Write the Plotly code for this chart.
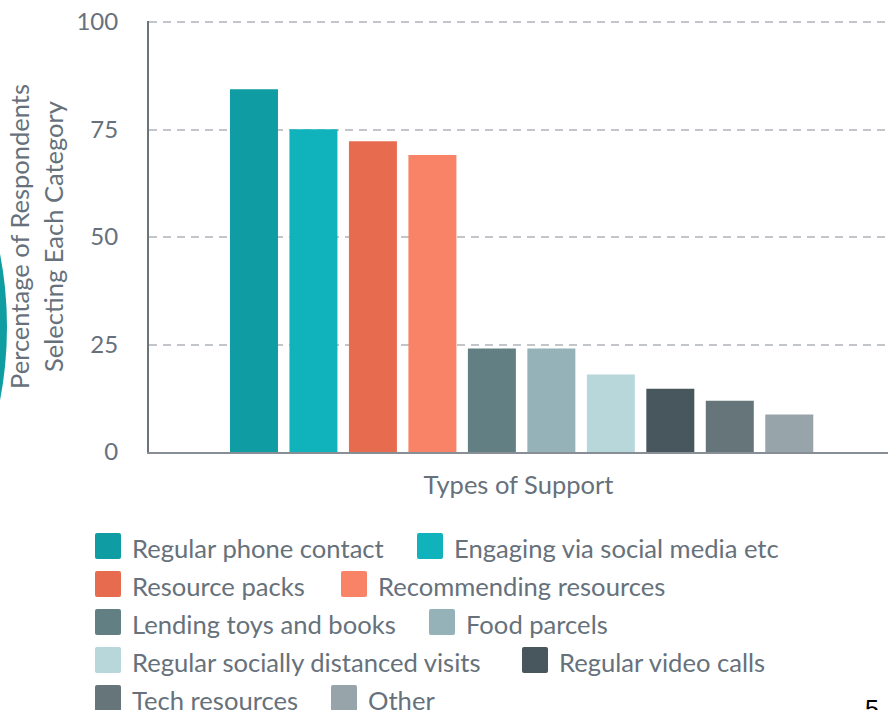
import plotly.graph_objects as go

# ---- data -------------------------------------------------------------
categories = [
    "Regular phone contact",
    "Engaging via social media etc",
    "Resource packs",
    "Recommending resources",
    "Lending toys and books",
    "Food parcels",
    "Regular socially distanced visits",
    "Regular video calls",
    "Tech resources",
    "Other",
]
percentages = [84.4, 75.1, 72.3, 69.1, 24.1, 24.1, 18.0, 14.7, 11.9, 8.7]
bar_colors = [
    "#0f9da3", "#10b3bc", "#e76c4f", "#f98367", "#628084",
    "#94b2b7", "#b8d7db", "#48575d", "#667579", "#97a4a9",
]
y_ticks = [0, 25, 50, 75, 100]
y_title = "Percentage of Respondents<br>Selecting Each Category"
x_title = "Types of Support"
page_number = "5"

# ---- page geometry (pixels) ------------------------------------------
W, H = 890, 710
M_L, M_R, M_T, M_B = 149, 2, 21, 258
PW = W - M_L - M_R
PH = H - M_T - M_B

FONT = "Lato"
TEXT = "#66717b"


def fx(px):
    """pixel column -> paper x"""
    return (px - M_L) / PW


def fy(py):
    """pixel row -> paper y"""
    return (H - M_B - py) / PH


def rounded_rect_path(x0, y0, x1, y1, r):
    """SVG path (paper coords) for a rectangle given in pixels, rounded corners."""
    pts = [
        ("M", x0 + r, y0), ("L", x1 - r, y0), ("Q", x1, y0, x1, y0 + r),
        ("L", x1, y1 - r), ("Q", x1, y1, x1 - r, y1),
        ("L", x0 + r, y1), ("Q", x0, y1, x0, y1 - r),
        ("L", x0, y0 + r), ("Q", x0, y0, x0 + r, y0),
    ]
    out = []
    for seg in pts:
        cmd, coords = seg[0], seg[1:]
        pairs = [f"{fx(coords[k]):.5f},{fy(coords[k + 1]):.5f}" for k in range(0, len(coords), 2)]
        out.append(cmd + " ".join(pairs))
    return " ".join(out) + " Z"


fig = go.Figure()
fig.add_trace(go.Bar(
    x=categories,
    y=percentages,
    marker=dict(color=bar_colors, line=dict(width=0)),
    width=0.807,
    showlegend=False,
    hovertemplate="%{x}: %{y:.1f}%<extra></extra>",
))

# ---- legend: two entries per row -------------------------------------
LEG_X0 = 95
LEG_ROW0 = 546
LEG_STEP = 38
SW = 26
TXT_DX = 35
LEG_COL2_X = [417, 341, 429, 522, 331]

shapes = []
annotations = []
for i, (name, col) in enumerate(zip(categories, bar_colors)):
    row, colno = divmod(i, 2)
    sx = LEG_X0 if colno == 0 else LEG_COL2_X[row]
    cy = LEG_ROW0 + row * LEG_STEP
    shapes.append(dict(
        type="path", xref="paper", yref="paper",
        path=rounded_rect_path(sx, cy - 13, sx + SW, cy + 13, 2),
        fillcolor=col, line=dict(width=0), layer="above",
    ))
    annotations.append(dict(
        xref="paper", yref="paper", x=fx(sx + TXT_DX), y=fy(cy + 1.5),
        xanchor="left", yanchor="middle", showarrow=False,
        text=name, font=dict(family=FONT, size=25.6, color=TEXT),
    ))

# decorative teal disc at the left edge of the page
shapes.append(dict(
    type="circle", xref="paper", yref="paper",
    x0=fx(-771), x1=fx(7), y0=fy(716), y1=fy(-62),
    fillcolor="#0f9da2", line=dict(width=0), layer="below",
))

# page number
annotations.append(dict(
    xref="paper", yref="paper", x=fx(872), y=fy(693),
    xanchor="center", yanchor="top", showarrow=False,
    text=page_number, font=dict(family="Liberation Sans", size=25, color="#000000"),
))

fig.update_layout(
    width=W, height=H,
    margin=dict(l=M_L, r=M_R, t=M_T, b=M_B, pad=0),
    paper_bgcolor="white", plot_bgcolor="white",
    font=dict(family=FONT, color=TEXT),
    shapes=shapes,
    annotations=annotations,
    showlegend=False,
)

fig.update_xaxes(
    type="category",
    range=[-1.765, 10.66],
    showticklabels=False, ticks="",
    showgrid=False, zeroline=False,
    showline=True, linecolor="#878e95", linewidth=2,
    title=dict(text=x_title, font=dict(family=FONT, size=25.5, color=TEXT), standoff=23),
)
fig.update_yaxes(
    range=[0, 100.25],
    tickvals=y_ticks,
    tickfont=dict(family=FONT, size=24, color=TEXT),
    ticks="", ticklabelstandoff=24,
    showgrid=True, gridcolor="#c2c5ca", gridwidth=2, griddash="8px,6px",
    zeroline=False,
    showline=True, linecolor="#6b737b", linewidth=2,
    title=dict(text=y_title, font=dict(family=FONT, size=25.5, color=TEXT), standoff=6),
)

fig.write_html("out.html")
